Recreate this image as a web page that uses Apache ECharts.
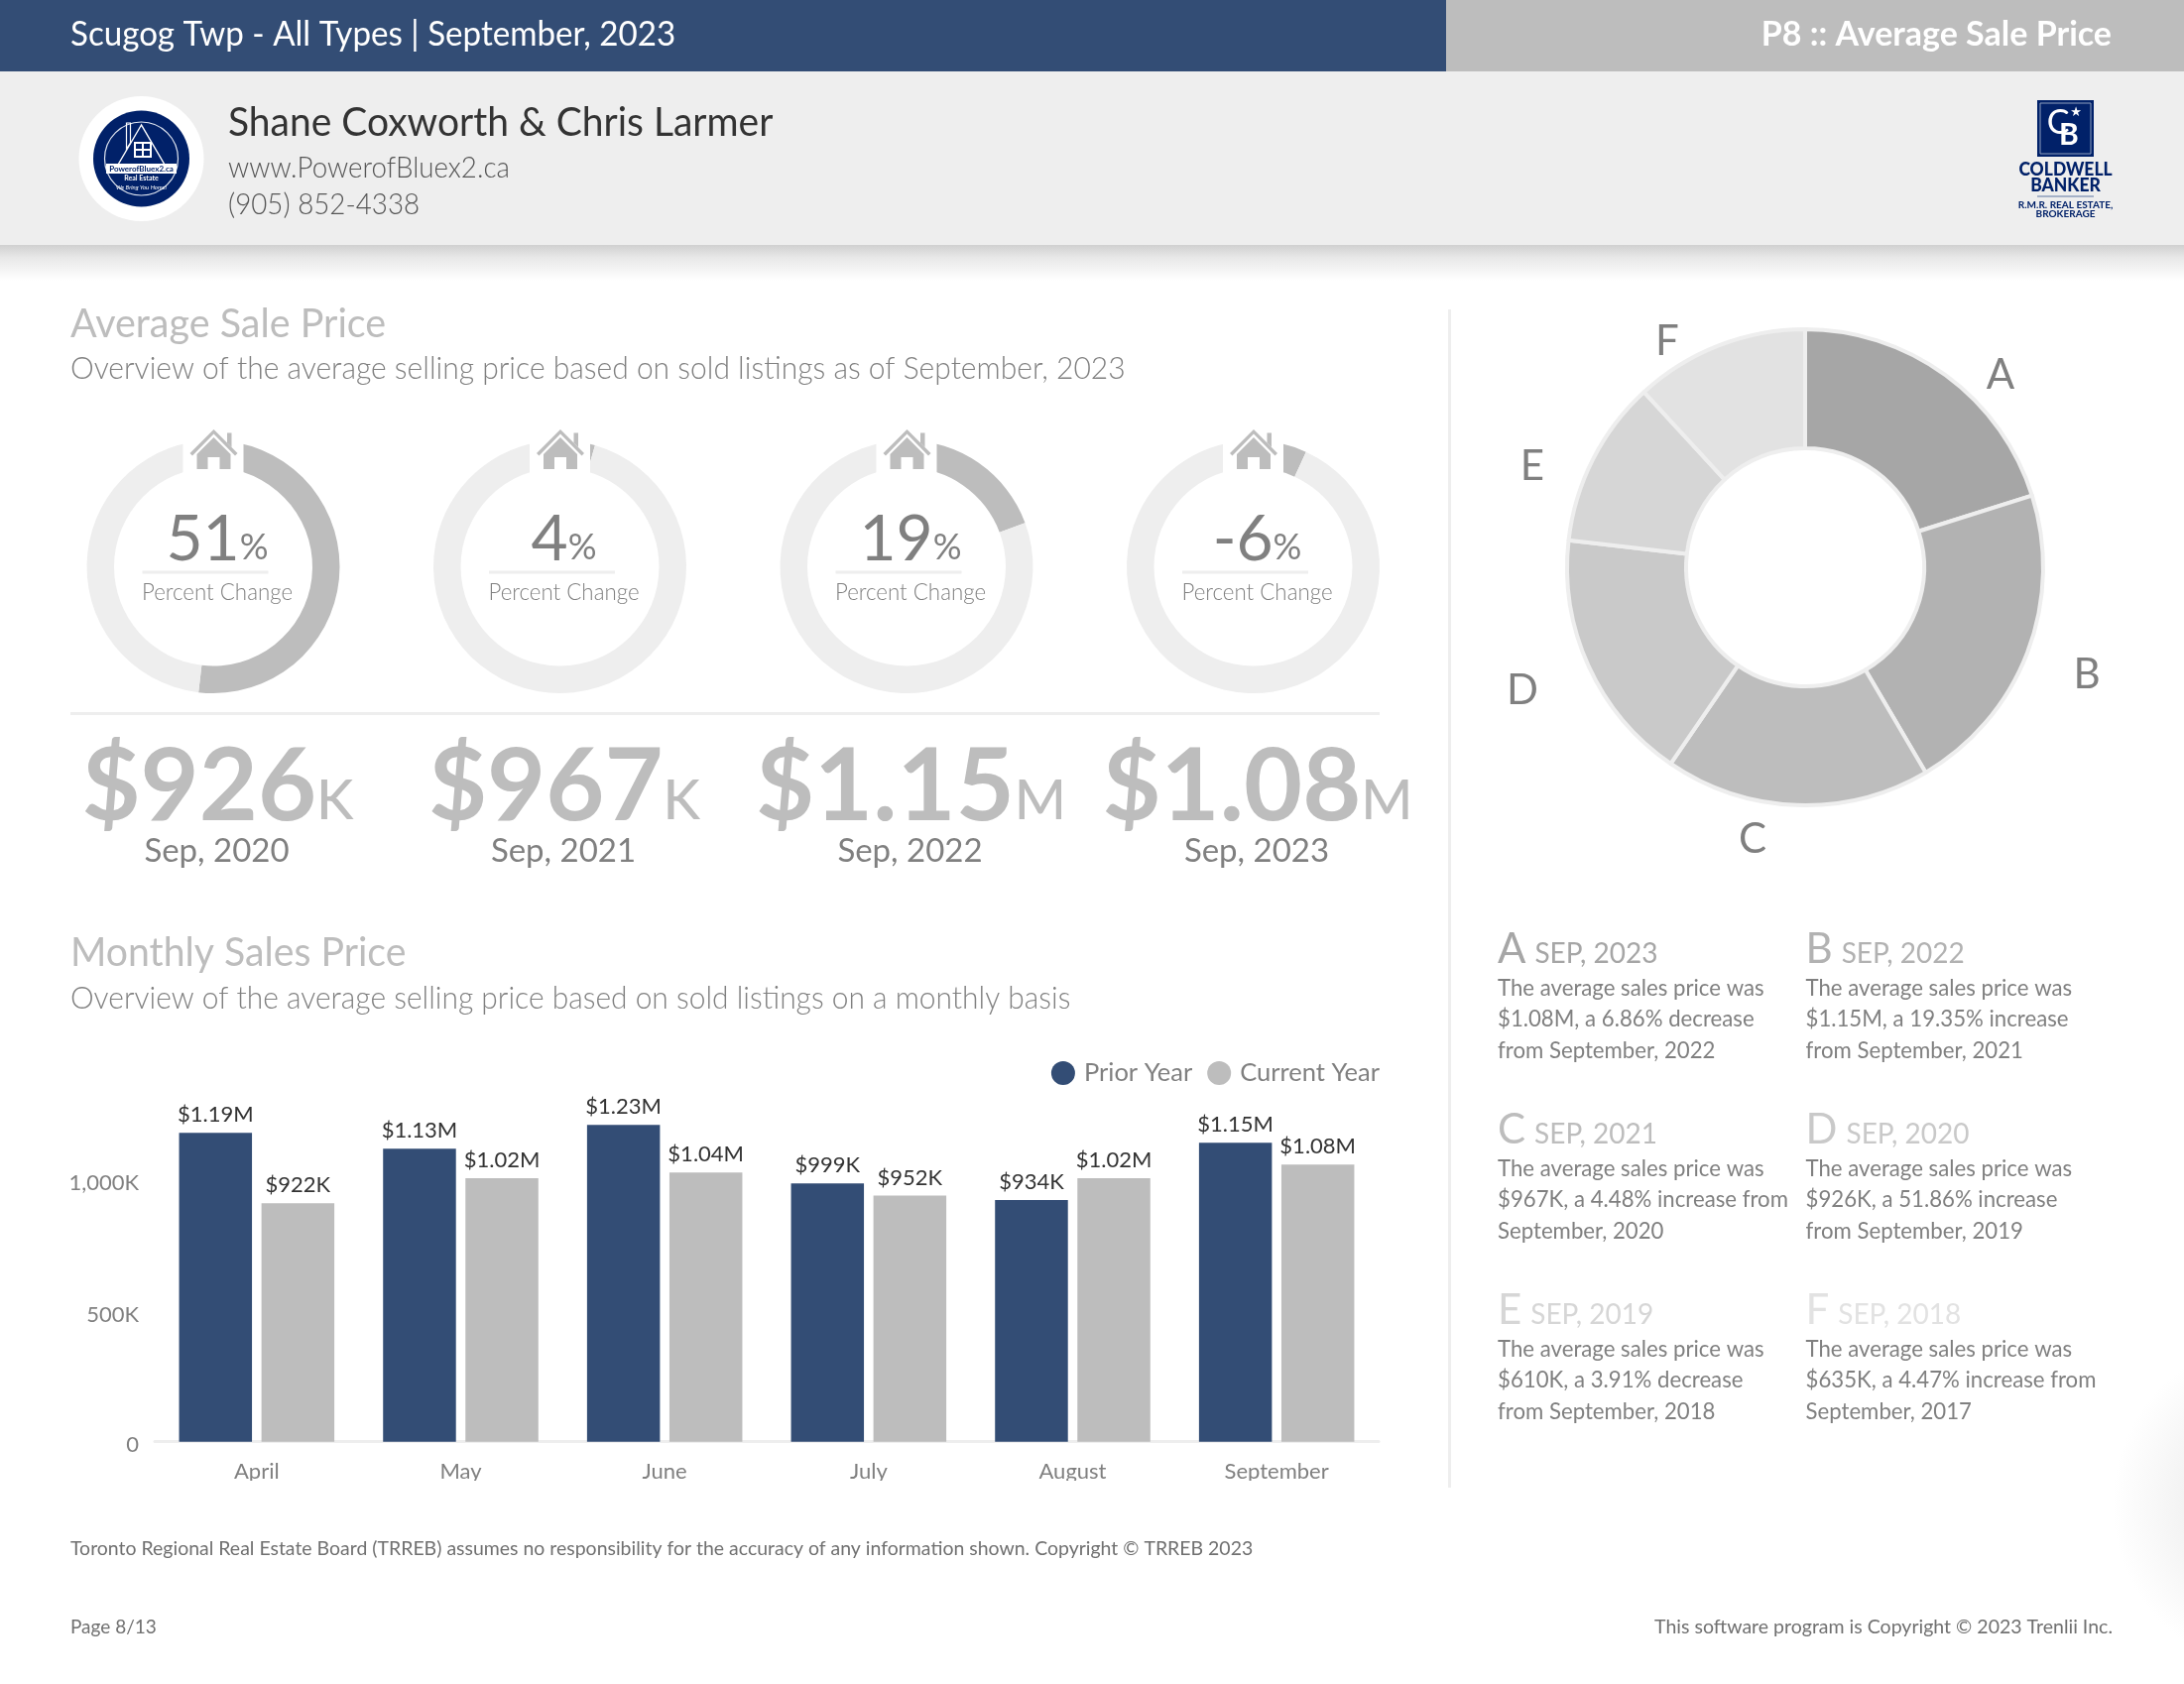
<!DOCTYPE html>
<html><head><meta charset="utf-8">
<style>html,body{margin:0;padding:0;background:#fff}#c{width:2202px;height:1698px}</style>
<script src="https://cdn.jsdelivr.net/npm/echarts@6/dist/echarts.min.js"></script>
</head><body><div id="c"></div>
<script>
// ---- data ----
const months = ['April','May','June','July','August','September'];
const priorYear = [1194000,1133000,1225000,999000,935000,1156000];
const currentYear = [922000,1019000,1041000,952000,1019000,1072000];
const priorLabels = ['$1.19M','$1.13M','$1.23M','$999K','$934K','$1.15M'];
const currentLabels = ['$922K','$1.02M','$1.04M','$952K','$1.02M','$1.08M'];
const ringChange = [51.86,4.48,19.35,6.86];
const ringLabels = ['51','4','19','-6'];
const bigNumbers = ['$926','$967','$1.15','$1.08'];
const bigUnits = ['K','K','M','M'];
const bigDates = ['Sep, 2020','Sep, 2021','Sep, 2022','Sep, 2023'];
const donutNames = ['A','B','C','D','E','F'];
const donutValues = [1080000,1150000,967000,926000,610000,635000];
const noteDates = ['SEP, 2023','SEP, 2022','SEP, 2021','SEP, 2020','SEP, 2019','SEP, 2018'];
const noteLines = [
 ['The average sales price was','$1.08M, a 6.86% decrease','from September, 2022'],
 ['The average sales price was','$1.15M, a 19.35% increase','from September, 2021'],
 ['The average sales price was','$967K, a 4.48% increase from','September, 2020'],
 ['The average sales price was','$926K, a 51.86% increase','from September, 2019'],
 ['The average sales price was','$610K, a 3.91% decrease','from September, 2018'],
 ['The average sales price was','$635K, a 4.47% increase from','September, 2017']
];
// ---- style / layout ----
const NAVY='#334d75', GREY='#bdbdbd', PALE='#eeeeee', TXT='#808080', LOGO='#012169';
const F='Lato';
const donutColors=['#a6a6a6','#b2b2b2','#bdbdbd','#c9c9c9','#d6d6d6','#e2e2e2'];
const donutLabelPos=[[2017,378],[2104,680],[1767,846],[1535,696],[1545,470],[1681,344]];
const ringX=[215,564.5,914,1263.5], ringY=571.5;
const mctx=document.createElement('canvas').getContext('2d');
function tw(s,size,weight){mctx.font=(weight||400)+' '+size+'px '+F;return mctx.measureText(s).width;}
const g=[];
function T(x,base,text,size,color,o){o=o||{};
  g.push({type:'text',z:o.z||50,silent:true,x:x,y:base-0.3*size,scaleX:o.sx||1,style:{text:text,fill:color,
    font:(o.w||400)+' '+size+'px '+F,align:o.a||'left',verticalAlign:'middle'}});}
function R(x,y,w,h,fill,z){g.push({type:'rect',z:z==null?0:z,silent:true,shape:{x:x,y:y,width:w,height:h},style:{fill:fill}});}
function C(x,y,r,o){g.push({type:'circle',z:o.z||1,silent:true,shape:{cx:x,cy:y,r:r},style:o.style});}
function Poly(x,y,pts,style,z){g.push({type:'polygon',z:z||101,silent:true,x:x,y:y,shape:{points:pts},style:style});}

// faint page shade at the right edge
g.push({type:'circle',z:0,silent:true,shape:{cx:2300,cy:1517,r:170},style:{fill:{type:'radial',x:.5,y:.5,r:.5,
  colorStops:[{offset:0,color:'#e6e6e6'},{offset:.58,color:'#f3f3f3'},{offset:1,color:'#ffffff'}]}}});
// header
R(0,0,1458,72,NAVY);
R(1458,0,744,72,GREY);
R(0,72,2202,175,PALE);
g.push({type:'rect',z:0,silent:true,shape:{x:0,y:247,width:2202,height:36},style:{fill:{type:'linear',x:0,y:0,x2:0,y2:1,
  colorStops:[{offset:0,color:'#d0d0d0'},{offset:.35,color:'#e8e8e8'},{offset:1,color:'#ffffff'}]}}});
T(71,45.5,'Scugog Twp - All Types | September, 2023',35,'#fff',{sx:.947});
T(2129,45.5,'P8 :: Average Sale Price',34,'#fff',{a:'right',w:700,sx:1});
T(230,136,'Shane Coxworth & Chris Larmer',41,'#333333',{sx:.951});
T(230,178,'www.PowerofBluex2.ca',30,'#555555',{w:300,sx:.924});
T(230,215,'(905) 852-4338',30,'#555555',{w:300,sx:.925});
// left logo
C(142.5,160,63,{style:{fill:'#fff'}});
C(142.5,160,48.5,{z:2,style:{fill:LOGO}});
C(142.5,160,37,{z:3,style:{fill:LOGO,stroke:'#dfe5f0',lineWidth:1.2}});
Poly(142.5,126,[[0,0],[-27,46],[27,46]],{fill:'none',stroke:'#fff',lineWidth:1.4},4);
Poly(142.5,126,[[-15,-2],[-11,-2],[-11,18],[-15,24]],{fill:'none',stroke:'#fff',lineWidth:1.2},4);
R(135,143,18,16,'#fff',4);R(137,145,6,5,LOGO,5);R(145,145,6,5,LOGO,5);R(137,152,6,5,LOGO,5);R(145,152,6,5,LOGO,5);
R(107,165,71,10,'#fff',4);
g.push({type:'text',z:6,silent:true,x:142.5,y:170,style:{text:'PowerofBluex2.ca',fill:LOGO,font:'700 8px '+F,align:'center',verticalAlign:'middle'}});
g.push({type:'text',z:6,silent:true,x:142.5,y:180,style:{text:'Real Estate',fill:'#fff',font:'700 7px '+F,align:'center',verticalAlign:'middle'}});
g.push({type:'text',z:6,silent:true,x:142.5,y:189,style:{text:'We Bring You Home!',fill:'#fff',font:'italic 6px '+F,align:'center',verticalAlign:'middle'}});
// right logo
R(2054,101,57,57,LOGO);
g.push({type:'rect',z:1,silent:true,shape:{x:2057,y:104,width:51,height:51},style:{fill:'none',stroke:'#8fa0bf',lineWidth:1}});
g.push({type:'text',z:2,silent:true,x:2075,y:124,style:{text:'C',fill:'#fff',font:'400 34px '+F,align:'center',verticalAlign:'middle'}});
g.push({type:'text',z:2,silent:true,x:2086,y:136,style:{text:'B',fill:'#fff',font:'700 30px '+F,align:'center',verticalAlign:'middle'}});
g.push({type:'text',z:2,silent:true,x:2093,y:114,style:{text:'★',fill:'#fff',font:'13px "DejaVu Sans"',align:'center',verticalAlign:'middle'}});
T(2082.5,177,'COLDWELL',18,LOGO,{a:'center',w:900,sx:.97});
T(2082.5,193,'BANKER',18,LOGO,{a:'center',w:900,sx:.97});
R(2054,197.5,57,1,'#5c74a0');
T(2082.5,210,'R.M.R. REAL ESTATE,',10,LOGO,{a:'center',w:700});
T(2082.5,219,'BROKERAGE',10,LOGO,{a:'center',w:700});

// section heads
T(71,339.5,'Average Sale Price',40,GREY,{sx:.987});
T(71,381,'Overview of the average selling price based on sold listings as of September, 2023',32,TXT,{w:300,sx:.938});
T(71,973,'Monthly Sales Price',40,GREY,{sx:.98});
T(71,1016,'Overview of the average selling price based on sold listings on a monthly basis',32,TXT,{w:300,sx:.936});
// separators
R(71,718,1320,3,PALE);
R(1460,312,3,1188,PALE);

// rings
ringX.forEach(function(cx,i){
  R(cx-30.5,430,61,47,'#fff',100);
  const st={fill:GREY};
  Poly(cx+.5,433,[[0,0],[24,24],[21.5,26.5],[0,4.5],[-21.5,26.5],[-24,24]],st);
  Poly(cx+.5,433,[[13.5,3.5],[18,3.5],[18,18],[13.5,13.5]],st);
  Poly(cx+.5,433,[[0,8],[17,25],[17,40],[6,40],[6,28],[-6,28],[-6,40],[-17,40],[-17,25]],st);
  const big=ringLabels[i], ws=tw(big,64,400), wp=tw('%',36,400), x0=cx+4-(ws+wp)/2;
  T(x0,563.5,big,64,TXT);
  T(x0+ws,563.5,'%',36,TXT);
  R(cx-71.5,575.5,127,3,PALE,50);
  T(cx+4,604,'Percent Change',23,TXT,{a:'center',w:300,sx:.97});
  const nw=tw(bigNumbers[i],102,700), uw=tw(bigUnits[i],56,500), xb=cx+4.5-(nw+uw)/2;
  T(xb,825,bigNumbers[i],102,GREY,{w:700});
  T(xb+nw,825,bigUnits[i],56,GREY,{w:500});
  T(cx+3.5,868,bigDates[i],33,TXT,{a:'center'});
});

// notes
const noteX=[1510,1820.5], noteY=[970,1152,1334];
noteDates.forEach(function(d,i){
  const x=noteX[i%2], y=noteY[Math.floor(i/2)], l=donutNames[i], lw=tw(l,42);
  T(x,y,l,42,donutColors[i]);
  T(x+lw+9,y,d,28,donutColors[i]);
  noteLines[i].forEach(function(s,k){T(x,y+33+k*31.5,s,24,TXT,{sx:.925});});
});

// footer
T(71,1568,'Toronto Regional Real Estate Board (TRREB) assumes no responsibility for the accuracy of any information shown. Copyright © TRREB 2023',20,'#707070',{sx:.973});
T(71,1647,'Page 8/13',20,'#707070',{sx:.95});
T(2130,1647,'This software program is Copyright © 2023 Trenlii Inc.',20,'#707070',{a:'right',sx:.976});
// clip of the axis labels at the foot of the bar panel
R(150,1493,1250,20,'#fff',100);

const labelBase={show:true,position:'top',distance:7,fontFamily:F,fontSize:22,color:'#333333'};
const series=[
 {type:'bar',name:'Prior Year',data:priorYear,barWidth:73.5,barGap:'13%',itemStyle:{color:NAVY},silent:true,
  label:Object.assign({},labelBase,{formatter:function(p){return priorLabels[p.dataIndex];}})},
 {type:'bar',name:'Current Year',data:currentYear,barWidth:73.5,barGap:'13%',itemStyle:{color:GREY},silent:true,
  label:Object.assign({},labelBase,{formatter:function(p){return currentLabels[p.dataIndex];}})},
 {type:'pie',center:[1820,572],radius:[120,240],startAngle:90,clockwise:true,silent:true,avoidLabelOverlap:false,
  data:donutNames.map(function(n,i){return {name:n,value:donutValues[i],itemStyle:{color:donutColors[i]}};}),
  itemStyle:{borderColor:PALE,borderWidth:4},
  label:{show:true,position:'outside',formatter:'{b}',fontFamily:F,fontSize:42,color:TXT},labelLine:{show:false},
  labelLayout:function(p){const q=donutLabelPos[p.dataIndex];return {x:q[0],y:q[1],align:'center',verticalAlign:'middle'};}}
];
ringChange.forEach(function(v,i){
  series.push({type:'pie',center:[ringX[i],ringY],radius:[100,127.5],startAngle:90,clockwise:true,silent:true,label:{show:false},labelLine:{show:false},
    data:[{name:'change',value:v,itemStyle:{color:GREY}},{name:'rest',value:100-v,itemStyle:{color:PALE}}]});
});
const axisRich={t:{fontFamily:F,fontSize:22,color:TXT},s:{fontFamily:F,fontSize:22,color:TXT,padding:[6,0,0,0]}};
const chart=echarts.init(document.getElementById('c'),null,{renderer:'canvas'});
chart.setOption({
  animation:false,backgroundColor:'#fff',
  legend:{data:['Prior Year','Current Year'],selectedMode:false,right:811,top:1069,padding:0,icon:'circle',itemWidth:24,itemHeight:24,itemGap:15,
    textStyle:{fontFamily:F,fontSize:25.5,color:TXT,padding:[0,0,0,4]}},
  grid:{left:156,width:1234,top:1114.7,height:339},
  xAxis:{type:'category',data:months,axisTick:{show:false},axisLine:{lineStyle:{color:PALE,width:3}},
    axisLabel:{fontFamily:F,fontSize:22,color:TXT,margin:19}},
  yAxis:{type:'value',min:0,max:1300000,interval:500000,splitLine:{show:false},axisLine:{show:false},axisTick:{show:false},
    axisLabel:{fontFamily:F,fontSize:22,color:TXT,margin:16,showMaxLabel:false,rich:axisRich,
      formatter:function(v){return v===0?'{s|0}':v===500000?'{s|500K}':'{t|'+(v/1000).toLocaleString('en-US')+'K}';}}},
  series:series,
  graphic:{elements:g}
});
</script></body></html>
